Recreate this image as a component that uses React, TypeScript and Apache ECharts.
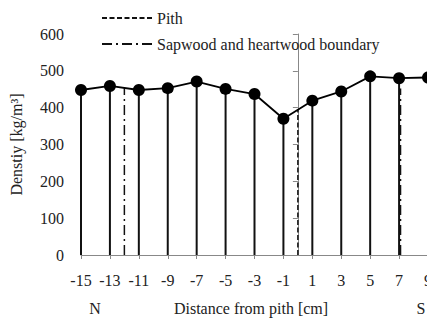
import React, { useEffect, useRef } from "react";
import * as echarts from "echarts";

const distances = [-15, -13, -11, -9, -7, -5, -3, -1, 1, 3, 5, 7, 9];
const densities = [448, 459, 448, 453, 471, 451, 437, 370, 419, 444, 485, 480, 482];
const pithLine = [[0, 0], [0, 395]];
const boundaryLeft = [[-12, 0], [-12, 454]];
const boundaryRight = [[7.1, 0], [7.1, 452]];
const yTicks = { min: 0, max: 600, interval: 100 };
const xTicks = { min: -15, max: 9, interval: 2 };

const FONT = "Liberation Serif";

export default function App() {
  const ref = useRef<HTMLDivElement>(null);
  useEffect(() => {
    if (!ref.current) return;
    const chart = echarts.init(ref.current, undefined, { renderer: "svg" });
    const points = distances.map((d, i) => [d, densities[i]]);
    chart.setOption({
      animation: false,
      backgroundColor: "#fff",
      textStyle: { fontFamily: FONT },
      grid: { left: 81, top: 34, width: 347, height: 221, outerBoundsMode: "none", containLabel: false },
      legend: {
        orient: "vertical",
        left: 96,
        top: 5,
        itemWidth: 52,
        itemHeight: 14,
        itemGap: 10,
        data: ["Pith", "Sapwood and heartwood boundary"],
        itemStyle: { color: "transparent", borderWidth: 0, opacity: 0 },
        textStyle: { fontFamily: FONT, fontSize: 16, color: "#222", padding: [0, 0, 0, -2] },
      },
      xAxis: {
        type: "value",
        min: xTicks.min,
        max: xTicks.max,
        interval: xTicks.interval,
        splitLine: { show: false },
        axisLine: { lineStyle: { color: "#888", width: 1 } },
        axisTick: { show: true, length: 4, lineStyle: { color: "#888" } },
        axisLabel: { margin: 17, fontFamily: FONT, fontSize: 16, color: "#222", hideOverlap: false, showMaxLabel: true },
      },
      yAxis: {
        type: "value",
        min: yTicks.min,
        max: yTicks.max,
        interval: yTicks.interval,
        name: "Denstiy [kg/m³]",
        nameLocation: "middle",
        nameGap: 57,
        nameTextStyle: { fontFamily: FONT, fontSize: 16, color: "#222" },
        splitLine: { show: false },
        axisLine: { show: true, lineStyle: { color: "#888", width: 1 } },
        axisTick: { show: true, length: 5, lineStyle: { color: "#888" } },
        axisLabel: { margin: 17, fontFamily: FONT, fontSize: 16, color: "#222" },
      },
      graphic: [
        { type: "text", x: 95, y: 308, style: { text: "N", fontFamily: FONT, fontSize: 16, fill: "#222", align: "center", verticalAlign: "middle" } },
        { type: "text", x: 251, y: 308, style: { text: "Distance from pith [cm]", fontFamily: FONT, fontSize: 16, fill: "#222", align: "center", verticalAlign: "middle" } },
        { type: "text", x: 421, y: 308, style: { text: "S", fontFamily: FONT, fontSize: 16, fill: "#222", align: "center", verticalAlign: "middle" } },
      ],
      series: [
        {
          name: "drop",
          type: "bar",
          data: points,
          barWidth: 2,
          itemStyle: { color: "#111" },
          z: 2,
        },
        {
          name: "Pith",
          type: "line",
          data: pithLine,
          symbol: "none",
          itemStyle: { color: "#111" },
          lineStyle: { color: "#111", width: 1.5, type: [5, 2.5] },
          z: 3,
        },
        {
          name: "Sapwood and heartwood boundary",
          type: "line",
          data: boundaryLeft,
          symbol: "none",
          itemStyle: { color: "#111" },
          lineStyle: { color: "#111", width: 1.5, type: [10, 4, 2, 4] },
          z: 3,
        },
        {
          name: "Sapwood and heartwood boundary",
          type: "line",
          data: boundaryRight,
          symbol: "none",
          itemStyle: { color: "#111" },
          lineStyle: { color: "#111", width: 1.5, type: [10, 4, 2, 4] },
          z: 3,
        },
        {
          name: "Density",
          type: "line",
          data: points,
          symbol: "circle",
          symbolSize: 12,
          itemStyle: { color: "#000" },
          lineStyle: { color: "#000", width: 1.8 },
          z: 4,
        },
      ],
    });
    return () => chart.dispose();
  }, []);
  return (
    <div
      ref={ref}
      style={{ position: "fixed", left: 0, top: 0, width: 427, height: 320, background: "#fff" }}
    />
  );
}
